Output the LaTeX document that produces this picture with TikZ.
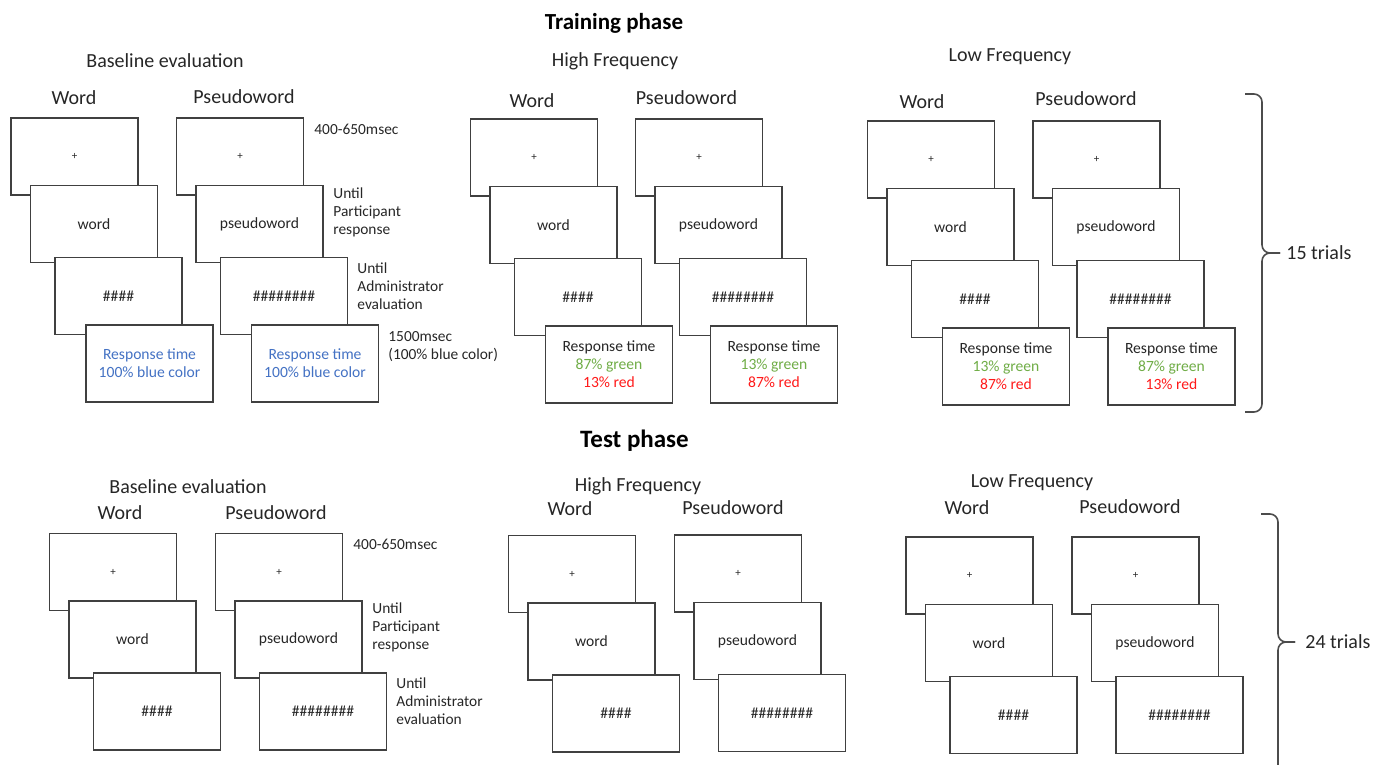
\documentclass[tikz,border=0pt]{standalone}
\usepackage{fontspec}
\setmainfont{Carlito}
\definecolor{rtblue}{HTML}{4472C4}
\definecolor{rtgreen}{HTML}{70AD47}
\definecolor{rtred}{HTML}{FF1A1A}

\begin{document}
\begin{tikzpicture}[x=0.5pt,y=-0.5pt]
        \useasboundingbox (0,0) rectangle (1386,765);
        %
        \tikzset{screen/.style={draw=black!75, line width=0.7pt, fill=white, minimum width=63.5pt, minimum height=38.5pt, inner sep=0pt, align=center, text=black!85, font=\fontsize{7.8}{9}\selectfont}}
        \tikzset{cross/.style={screen, font=\fontsize{5.5}{6}\selectfont}}
        \tikzset{head/.style={inner sep=0pt, text=black!85, font=\fontsize{10}{12}\selectfont}}
        \tikzset{phase/.style={inner sep=0pt, font=\bfseries\fontsize{11.5}{14}\selectfont}}
        \tikzset{note/.style={anchor=west, align=left, inner sep=0pt, text=black!85, font=\fontsize{7.7}{9}\selectfont}}
        \tikzset{brace/.style={draw=black!70, line width=0.8pt, rounded corners=4pt}}
        %
        \draw (614,23) node[phase](trP){Training phase};
        \draw (634.5,441) node[phase, font=\bfseries\fontsize{12.5}{15}\selectfont](teP){Test phase};
        %
        % training / baseline evaluation
        \draw (165,61) node[head](trB){Baseline evaluation};
        \draw (74,98) node[head](trBw){Word};
        \draw (244,97) node[head](trBp){Pseudoword};
        \draw (74.5,156.5) node[cross](trBW1){+};
        \draw (trBW1.center) ++(19.5,67.5) node[screen](trBW2){word};
        \draw (trBW2.center) ++(24.5,72) node[screen](trBW3){\#\#\#\#};
        \draw (trBW3.center) ++(31,67.5) node[screen, text=rtblue](trBW4){Response time\\100\% blue color};
        \draw (240,156.5) node[cross](trBP1){+};
        \draw (trBP1.center) ++(19.5,67.5) node[screen](trBP2){pseudoword};
        \draw (trBP2.center) ++(24.5,72) node[screen](trBP3){\#\#\#\#\#\#\#\#};
        \draw (trBP3.center) ++(31,67.5) node[screen, text=rtblue](trBP4){Response time\\100\% blue color};
        \draw (314,129) node[note](n1){400-650msec};
        \draw (333,212) node[note](n2){Until\\Participant\\response};
        \draw (357,286) node[note](n3){Until\\Administrator\\evaluation};
        \draw (388,347) node[note](n4){1500msec\\(100\% blue color)};
        %
        % training / high frequency
        \draw (615,61) node[head](trH){High Frequency};
        \draw (532,101) node[head](trHw){Word};
        \draw (686.5,98) node[head](trHp){Pseudoword};
        \draw (534,157.5) node[cross](trHW1){+};
        \draw (trHW1.center) ++(19.5,67.5) node[screen](trHW2){word};
        \draw (trHW2.center) ++(24.5,72) node[screen](trHW3){\#\#\#\#};
        \draw (trHW3.center) ++(31,67.5) node[screen](trHW4){Response time\\\textcolor{rtgreen}{87\% green}\\\textcolor{rtred}{13\% red}};
        \draw (699,157.5) node[cross](trHP1){+};
        \draw (trHP1.center) ++(19.5,67.5) node[screen](trHP2){pseudoword};
        \draw (trHP2.center) ++(24.5,72) node[screen](trHP3){\#\#\#\#\#\#\#\#};
        \draw (trHP3.center) ++(31,67.5) node[screen](trHP4){Response time\\\textcolor{rtgreen}{13\% green}\\\textcolor{rtred}{87\% red}};
        %
        % training / low frequency
        \draw (1010,57) node[head](trL){Low Frequency};
        \draw (922,102) node[head](trLw){Word};
        \draw (1086,99) node[head](trLp){Pseudoword};
        \draw (931,159.5) node[cross](trLW1){+};
        \draw (trLW1.center) ++(19.5,67.5) node[screen](trLW2){word};
        \draw (trLW2.center) ++(24.5,72) node[screen](trLW3){\#\#\#\#};
        \draw (trLW3.center) ++(31,67.5) node[screen](trLW4){Response time\\\textcolor{rtgreen}{13\% green}\\\textcolor{rtred}{87\% red}};
        \draw (1096.5,159.5) node[cross](trLP1){+};
        \draw (trLP1.center) ++(19.5,67.5) node[screen](trLP2){pseudoword};
        \draw (trLP2.center) ++(24.5,72) node[screen](trLP3){\#\#\#\#\#\#\#\#};
        \draw (trLP3.center) ++(31,67.5) node[screen](trLP4){Response time\\\textcolor{rtgreen}{87\% green}\\\textcolor{rtred}{13\% red}};
        %
        \coordinate (b1t) at (1245,94);
        \coordinate (b1b) at (1245,412);
        \coordinate (b1m) at (1262,253);
        \coordinate (b1c) at (1280,253);
        \draw[brace] (b1t) -| (b1m) -- (b1c);
        \draw[brace] (b1b) -| (b1m) -- (b1c);
        \draw (1286,253) node[head, anchor=west](t15){15 trials};
        %
        % test / baseline evaluation
        \draw (188,487) node[head](teB){Baseline evaluation};
        \draw (120,513) node[head](teBw){Word};
        \draw (276,513) node[head](teBp){Pseudoword};
        \draw (113,572) node[cross](teBW1){+};
        \draw (teBW1.center) ++(19.5,67.5) node[screen](teBW2){word};
        \draw (teBW2.center) ++(24.5,72) node[screen](teBW3){\#\#\#\#};
        \draw (279,572) node[cross](teBP1){+};
        \draw (teBP1.center) ++(19.5,67.5) node[screen](teBP2){pseudoword};
        \draw (teBP2.center) ++(24.5,72) node[screen](teBP3){\#\#\#\#\#\#\#\#};
        \draw (353,544) node[note](n5){400-650msec};
        \draw (372,627) node[note](n6){Until\\Participant\\response};
        \draw (396,701) node[note](n7){Until\\Administrator\\evaluation};
        %
        % test / high frequency
        \draw (638,486) node[head](teH){High Frequency};
        \draw (570,509) node[head](teHw){Word};
        \draw (733,508) node[head](teHp){Pseudoword};
        \draw (572,574) node[cross](teHW1){+};
        \draw (teHW1.center) ++(19.5,67.5) node[screen](teHW2){word};
        \draw (teHW2.center) ++(24.5,72) node[screen](teHW3){\#\#\#\#};
        \draw (738,573.5) node[cross](teHP1){+};
        \draw (teHP1.center) ++(19.5,67.5) node[screen](teHP2){pseudoword};
        \draw (teHP2.center) ++(24.5,72) node[screen](teHP3){\#\#\#\#\#\#\#\#};
        %
        % test / low frequency
        \draw (1032,483) node[head](teL){Low Frequency};
        \draw (967,508) node[head](teLw){Word};
        \draw (1130,507) node[head](teLp){Pseudoword};
        \draw (969.5,575.5) node[cross](teLW1){+};
        \draw (teLW1.center) ++(19.5,67.5) node[screen](teLW2){word};
        \draw (teLW2.center) ++(24.5,72) node[screen](teLW3){\#\#\#\#};
        \draw (1135.5,575.5) node[cross](teLP1){+};
        \draw (teLP1.center) ++(19.5,67.5) node[screen](teLP2){pseudoword};
        \draw (teLP2.center) ++(24.5,72) node[screen](teLP3){\#\#\#\#\#\#\#\#};
        %
        \coordinate (b2t) at (1261,514);
        \coordinate (b2b) at (1278,765);
        \coordinate (b2m) at (1278,642);
        \coordinate (b2c) at (1295,642);
        \draw[brace] (b2t) -| (b2m) -- (b2c);
        \draw[brace] (b2b) -- (b2m) -- (b2c);
        \draw (1305,642) node[head, anchor=west](t24){24 trials};
    \end{tikzpicture}
\end{document}
